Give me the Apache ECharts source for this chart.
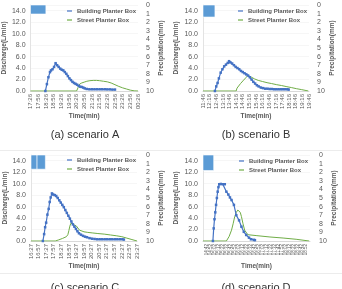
<!DOCTYPE html>
<html>
<head>
<meta charset="utf-8">
<script src="https://cdn.jsdelivr.net/npm/echarts@6/dist/echarts.min.js"></script>
<style>
  html, body { margin: 0; padding: 0; background: #fff; }
  #main { width: 342px; height: 289px; }
</style>
</head>
<body>
<div id="main"></div>
<script>
// scenario A
const timeLabelsA = ['17:26', '17:56', '18:26', '18:56', '19:26', '19:56', '20:26', '20:56', '21:26', '21:56', '22:26', '22:56', '23:26', '23:56', '00:26']
const buildingTimeA = [58, 64, 70, 76, 80, 86, 92, 98, 104, 110, 116, 122, 128, 134, 140, 146, 152, 158, 164, 170, 176, 182, 188, 194, 200, 206, 212, 220, 230, 240, 250, 260, 270, 280, 290, 300, 310, 320, 330]
const buildingFlowA = [0, 1.2, 2.4, 3.3, 3.6, 3.8, 4.2, 4.85, 4.5, 4.2, 3.9, 3.7, 3.6, 3.3, 3.0, 2.6, 2.2, 1.9, 1.6, 1.4, 1.25, 1.1, 0.9, 0.75, 0.7, 0.6, 0.45, 0.35, 0.3, 0.3, 0.3, 0.3, 0.3, 0.3, 0.3, 0.28, 0.28, 0.25, 0.25]
const streetTimeA = [0, 180, 186, 192, 200, 210, 220, 232, 245, 258, 270, 285, 300, 315, 330, 345, 360, 375, 390, 405, 420]
const streetFlowA = [0, 0, 0.6, 1.2, 1.4, 1.55, 1.7, 1.8, 1.85, 1.85, 1.8, 1.7, 1.6, 1.4, 1.1, 0.8, 0.55, 0.35, 0.15, 0.03, 0]
const rainA = [[0, 60, 1.05]]

// scenario B
const timeLabelsB = ['11:46', '12:16', '12:46', '13:16', '13:46', '14:16', '14:46', '15:16', '15:46', '16:16', '16:46', '17:16', '17:46', '18:16', '18:46', '19:16', '19:46']
const buildingTimeB = [54, 60, 66, 72, 80, 88, 96, 104, 112, 118, 124, 132, 140, 148, 156, 164, 172, 180, 188, 196, 204, 212, 220, 228, 236, 244, 252, 262, 272, 282, 292, 302, 312, 322, 332, 342, 352, 362, 372, 382, 388]
const buildingFlowB = [0, 0.8, 1.4, 2.2, 3.2, 3.8, 4.3, 4.6, 4.9, 5.2, 5.0, 4.8, 4.5, 4.2, 4.0, 3.8, 3.5, 3.3, 3.1, 2.9, 2.7, 2.4, 2.0, 1.6, 1.3, 1.0, 0.8, 0.6, 0.5, 0.4, 0.4, 0.35, 0.35, 0.3, 0.3, 0.3, 0.3, 0.3, 0.3, 0.3, 0.25]
const streetTimeB = [0, 150, 154, 160, 170, 184, 196, 204, 212, 222, 234, 250, 270, 290, 310, 334, 356, 380, 400, 424, 445, 462, 477]
const streetFlowB = [0, 0, 0.5, 0.8, 1.3, 1.9, 2.4, 2.75, 2.6, 2.35, 2.1, 1.85, 1.65, 1.45, 1.3, 1.1, 0.95, 0.75, 0.6, 0.4, 0.25, 0.12, 0]
const rainB = [[0, 54, 1.4]]

// scenario C
const timeLabelsC = ['16:27', '16:57', '17:27', '17:57', '18:27', '18:57', '19:27', '19:57', '20:27', '20:57', '21:27', '21:57', '22:27', '22:57', '23:27']
const buildingTimeC = [47, 52, 56, 60, 65, 70, 74, 78, 83, 88, 94, 100, 106, 112, 118, 124, 130, 136, 142, 148, 154, 160, 166, 172, 178, 184, 190, 198, 206, 214, 222, 232, 242, 252, 262, 272, 282, 292, 302, 312, 322, 332, 342, 352, 362, 368]
const buildingFlowC = [0, 1.2, 2.4, 3.2, 4.6, 5.6, 6.8, 7.6, 8.3, 8.1, 8.0, 7.85, 7.5, 7.1, 6.7, 6.3, 5.9, 5.4, 4.9, 4.4, 3.9, 3.4, 2.9, 2.5, 2.1, 1.7, 1.35, 1.1, 0.9, 0.75, 0.65, 0.5, 0.4, 0.35, 0.3, 0.3, 0.3, 0.3, 0.3, 0.3, 0.3, 0.3, 0.3, 0.3, 0.3, 0.25]
const streetTimeC = [0, 96, 110, 125, 140, 146, 150, 154, 158, 162, 168, 174, 180, 186, 192, 198, 210, 225, 245, 265, 290, 315, 340, 360, 380, 400, 420]
const streetFlowC = [0, 0, 0.2, 0.45, 0.75, 1.1, 1.8, 2.6, 3.1, 3.2, 2.9, 2.7, 2.6, 2.4, 1.9, 1.7, 1.6, 1.5, 1.4, 1.3, 1.2, 1.05, 0.9, 0.75, 0.5, 0.25, 0]
const rainC = [[0, 24, 1.65], [24, 57, 1.65]]

// scenario D
const timeLabelsD = ['14:32', '14:42', '14:52', '15:02', '15:12', '15:22', '15:32', '15:42', '15:52', '16:02', '16:12', '16:22', '16:32', '16:42', '16:52', '17:02', '17:12', '17:22', '17:32', '17:42', '17:52', '18:02', '18:12', '18:22', '18:32', '18:42', '18:52', '19:02']
const buildingTimeD = [25, 27, 29, 31, 33, 35, 37, 39, 41, 45, 50, 55, 59, 64, 68, 72, 78, 84, 91, 97, 103, 109, 116, 121, 128, 131]
const buildingFlowD = [0, 2.2, 3.8, 5.0, 6.3, 7.5, 8.6, 9.4, 9.9, 9.95, 9.9, 9.9, 8.6, 8.1, 7.6, 7.15, 6.3, 4.5, 3.6, 2.5, 1.6, 1.05, 0.58, 0.3, 0.2, 0.15]
const streetTimeD = [0, 59, 66, 72, 76, 80, 84, 88, 91, 94, 97, 101, 105, 113, 136, 169, 202, 235, 268]
const streetFlowD = [0, 0, 0.8, 1.9, 3.0, 4.25, 5.0, 5.4, 5.6, 5.0, 4.25, 3.0, 1.9, 1.1, 0.93, 0.7, 0.52, 0.3, 0]
const rainD = [[0, 27, 1.8]]

const dischargeTicks = 2
const precipTicks = 1
const font = 'Liberation Sans, Arial, sans-serif'
const gray = '#595959'

const panels = [
  { labels: timeLabelsA, step: 30, bt: buildingTimeA, bq: buildingFlowA, st: streetTimeA, sq: streetFlowA, rain: rainA,
    caption: '(a) scenario A', grid: { left: 30, top: 5, width: 108, height: 86 }, lg: [67, 8], ln: 21, rn: 19, rm: 8, cap: [85, 135], xf: 6 },
  { labels: timeLabelsB, step: 30, bt: buildingTimeB, bq: buildingFlowB, st: streetTimeB, sq: streetFlowB, rain: rainB,
    caption: '(b) scenario B', grid: { left: 203, top: 5, width: 106, height: 86 }, lg: [238, 8], ln: 23, rn: 19, rm: 8, cap: [256, 135], xf: 6 },
  { labels: timeLabelsC, step: 30, bt: buildingTimeC, bq: buildingFlowC, st: streetTimeC, sq: streetFlowC, rain: rainC,
    caption: '(c) scenario C', grid: { left: 31, top: 155, width: 106, height: 86 }, lg: [67, 157], ln: 22, rn: 18, rm: 9, cap: [85, 288], xf: 6 },
  { labels: timeLabelsD, step: 10, bt: buildingTimeD, bq: buildingFlowD, st: streetTimeD, sq: streetFlowD, rain: rainD,
    caption: '(d) scenario D', grid: { left: 203, top: 155, width: 107, height: 86 }, lg: [239, 158], ln: 23, rn: 16, rm: 9, cap: [256, 288], xf: 4.5 }
]

const zip = (a, b) => a.map((v, i) => [v, b[i]])

const option = {
  animation: false,
  textStyle: { fontFamily: font },
  grid: [], xAxis: [], yAxis: [], series: [], legend: [], graphic: []
}

panels.forEach((p, i) => {
  option.grid.push(p.grid)
  option.xAxis.push({
    type: 'value', gridIndex: i, min: 0, max: (p.labels.length - 1) * p.step, interval: p.step,
    name: 'Time(min)', nameLocation: 'middle', nameGap: 22,
    nameTextStyle: { fontSize: 6.5, fontWeight: 'bold', color: gray },
    axisLine: { lineStyle: { color: '#d9d9d9' } },
    axisTick: { show: false },
    splitLine: { show: false },
    axisLabel: { rotate: 90, fontSize: p.xf, color: gray, margin: 3,
      formatter: v => p.labels[Math.round(v / p.step)] || '' }
  })
  option.yAxis.push({
    type: 'value', gridIndex: i, min: 0, max: 15, interval: dischargeTicks,
    name: 'Discharge(L/min)', nameLocation: 'middle', nameGap: p.ln, nameRotate: 90,
    nameTextStyle: { fontSize: 6.5, fontWeight: 'bold', color: gray },
    axisLine: { show: true, lineStyle: { color: '#e3e3e3' } },
    axisTick: { show: false },
    splitLine: { lineStyle: { color: '#f0f0f0', width: 0.6 } },
    axisLabel: { fontSize: 7, color: gray, margin: 5, showMaxLabel: false, formatter: v => v.toFixed(1) }
  })
  option.yAxis.push({
    type: 'value', gridIndex: i, position: 'right', inverse: true, min: 0, max: 10, interval: precipTicks,
    name: 'Precipitation(mm)', nameLocation: 'middle', nameGap: p.rn, nameRotate: 90,
    nameTextStyle: { fontSize: 6.5, fontWeight: 'bold', color: gray },
    axisLine: { show: false }, axisTick: { show: false }, splitLine: { show: false },
    axisLabel: { fontSize: 7, color: gray, margin: p.rm }
  })
  option.series.push({
    type: 'custom', xAxisIndex: i, yAxisIndex: 2 * i + 1, data: p.rain,
    encode: { x: [0, 1], y: 2 },
    renderItem: (params, api) => {
      const a = api.coord([api.value(0), 0])
      const b = api.coord([api.value(1), api.value(2)])
      return { type: 'rect', shape: { x: a[0], y: a[1], width: b[0] - a[0], height: b[1] - a[1] },
        style: { fill: '#5b9bd5', stroke: '#fff', lineWidth: 0.6 } }
    }
  })
  option.series.push({
    name: 'Street Planter Box', type: 'line', xAxisIndex: i, yAxisIndex: 2 * i,
    data: zip(p.st, p.sq), symbol: 'none', lineStyle: { color: '#70ad47', width: 1 }, itemStyle: { color: '#70ad47' }
  })
  option.series.push({
    name: 'Building Planter Box', type: 'line', xAxisIndex: i, yAxisIndex: 2 * i,
    data: zip(p.bt, p.bq), symbol: 'rect', symbolSize: 2.5, showAllSymbol: true,
    lineStyle: { color: '#4472c4', width: 1.2 }, itemStyle: { color: '#4472c4' }
  })
  option.legend.push({
    orient: 'vertical', left: p.lg[0], top: p.lg[1], padding: 0,
    itemWidth: 5, itemHeight: 1.2, itemGap: 3, icon: 'rect',
    data: ['Building Planter Box', 'Street Planter Box'],
    textStyle: { fontSize: 6, fontWeight: 'bold', color: gray, fontFamily: font }
  })
  option.graphic.push({
    type: 'text', x: p.cap[0], y: p.cap[1],
    style: { text: p.caption, fontSize: 11, fontFamily: font, fill: '#333', align: 'center', verticalAlign: 'middle' }
  })
})

option.graphic.push(
  { type: 'line', shape: { x1: 0, y1: 150.5, x2: 342, y2: 150.5 }, style: { stroke: '#ececec', lineWidth: 1 } },
  { type: 'line', shape: { x1: 0, y1: 273.5, x2: 342, y2: 273.5 }, style: { stroke: '#ececec', lineWidth: 1 } }
)

const chart = echarts.init(document.getElementById('main'))
chart.setOption(option)
</script>
</body>
</html>
